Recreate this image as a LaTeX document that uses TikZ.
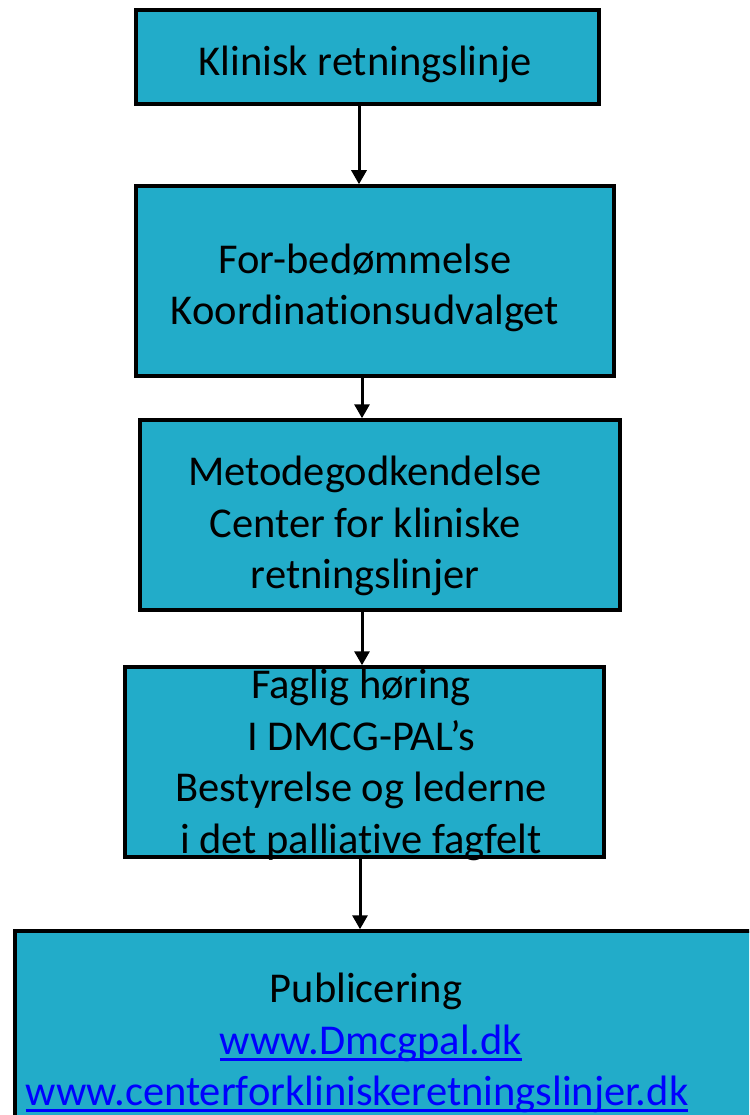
\documentclass[tikz,border=0pt]{standalone}
\usepackage{fontspec}
\setmainfont[Ligatures=NoCommon]{Carlito}
\usetikzlibrary{arrows.meta}
\definecolor{boxfill}{RGB}{34,172,201}
\definecolor{linkblue}{RGB}{0,0,255}
\tikzset{
  stepbox/.style={draw=black, line width=3.5pt, fill=boxfill, inner sep=0pt, rectangle},
  lbl/.style={align=center, inner sep=0pt, font=\fontsize{42.5}{51.5}\selectfont},
  arr/.style={draw=black, line width=3pt, -{Triangle[width=15pt,length=14pt]}},
}
\newcommand{\lnk}[1]{\textcolor{linkblue}{\setbox0\hbox{#1}\rlap{\rule[-6.5pt]{\wd0}{3pt}}\box0}}
\begin{document}
\begin{tikzpicture}[x=1pt,y=-1pt]
\useasboundingbox (0,0) rectangle (749,1115);
\clip (0,0) rectangle (749,1115);
% boxes
\node[stepbox, minimum width=463pt, minimum height=94pt] (b1) at (367.5,57) {};
\node[stepbox, minimum width=478pt, minimum height=190pt] (b2) at (375,281) {};
\node[stepbox, minimum width=480pt, minimum height=190pt] (b3) at (380,515) {};
\node[stepbox, minimum width=479pt, minimum height=190pt] (b4) at (364.5,762) {};
\node[stepbox, minimum width=760pt, minimum height=220pt] (b5) at (395,1041) {};
% labels
\node[lbl] (t1) at (365,64) {Klinisk retningslinje};
\node[lbl] (t2) at (365,288) {For-bedømmelse\\Koordinationsudvalget};
\node[lbl] (t3) at (365,526) {Metodegodkendelse\\Center for kliniske\\retningslinjer};
\node[lbl] (t4) at (361,765) {Faglig høring\\I DMCG-PAL’s\\Bestyrelse og lederne\\i det palliative fagfelt};
\node[lbl] (t5) at (357,1043) {\hspace*{18pt}Publicering\\\hspace*{28pt}\lnk{www.Dmcgpal.dk}\\\lnk{www.centerforkliniskeretningslinjer.dk}};
% arrows
\coordinate (ax1) at (359,0);
\coordinate (ax2) at (362,0);
\coordinate (ax3) at (362,0);
\coordinate (ax4) at (360,0);
\draw[arr] (b1.south -| ax1) -- (b2.north -| ax1);
\draw[arr] (b2.south -| ax2) -- (b3.north -| ax2);
\draw[arr] (b3.south -| ax3) -- (b4.north -| ax3);
\draw[arr] (b4.south -| ax4) -- (b5.north -| ax4);
\end{tikzpicture}
\end{document}
